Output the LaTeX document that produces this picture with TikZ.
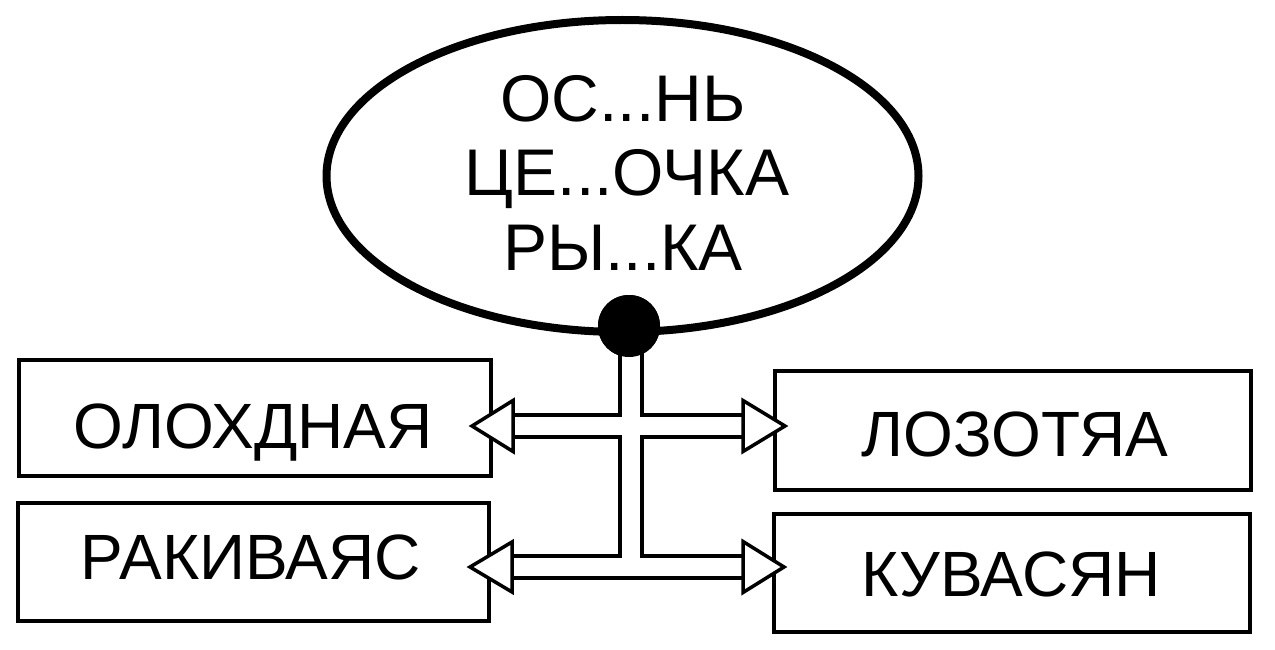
\documentclass[tikz,border=0pt]{standalone}
\usepackage{fontspec}
\setmainfont{Liberation Sans}
\usetikzlibrary{shapes.geometric}
\begin{document}
\begin{tikzpicture}[x=1pt,y=-1pt,
  box/.style={draw, line width=3.5pt, rectangle, inner sep=0pt},
  word/.style={inner sep=0pt, text height=46pt, text depth=0pt, font=\fontsize{64}{64}\selectfont},
  ovalword/.style={inner sep=0pt, text height=47pt, text depth=0pt, font=\fontsize{66}{66}\selectfont},
  oval/.style={draw, ellipse, line width=8pt, inner sep=0pt, minimum width=592pt, minimum height=312pt},
  pipeout/.style={line width=26.5pt, draw=black},
  pipein/.style={line width=18.5pt, draw=white},
  tip/.style={draw=black, fill=white, line width=3.5pt, line join=miter}
]
\useasboundingbox (0,0) rectangle (1275,650);
\fill[white] (0,0) rectangle (1275,650);

% boxes
\node[box, minimum width=472pt, minimum height=116pt] (tl) at (255,418) {};
\node[box, minimum width=471pt, minimum height=118pt] (bl) at (253.5,562) {};
\node[box, minimum width=476pt, minimum height=119pt] (tr) at (1013,430.5) {};
\node[box, minimum width=476pt, minimum height=118pt] (br) at (1012,573) {};
\node[word] (tlt) at (253,425) {ОЛОХДНАЯ};
\node[word] (blt) at (251,556) {РАКИВАЯС};
\node[word] (trt) at (1015,433) {ЛОЗОТЯА};
\node[word] (brt) at (1011,573) {КУВАСЯН};

% ellipse
\node[oval] (ov) at (622.5,176) {};
\node[ovalword] (l1) at (623,98.5) {ОС...НЬ};
\node[ovalword] (l2) at (627,172.5) {ЦЕ...ОЧКА};
\node[ovalword] (l3) at (623,246.5) {РЫ...КА};

\node[circle, fill=black, minimum size=62pt, inner sep=0pt] (dot) at (629,326) {};

% pipes
\coordinate (jb) at (631,567);
\coordinate (atl) at (513,426);
\coordinate (atr) at (743,426);
\coordinate (abl) at (512,567);
\coordinate (abr) at (743,567);
\draw[pipeout] (dot.center |- dot.center) ++(2,0) -- (jb) (atl) -- (atr) (abl) -- (abr);
\draw[pipein] (dot.center) ++(2,0) -- (jb) (atl) -- (atr) (abl) -- (abr);

% arrow heads
\draw[tip] (atl) ++(0,-25.5) -- (472,426) -- (513,451.5) -- cycle;
\draw[tip] (atr) ++(0,-25.5) -- (785,426) -- (743,451.5) -- cycle;
\draw[tip] (abl) ++(0,-25) -- (470,567) -- (512,592) -- cycle;
\draw[tip] (abr) ++(0,-25.5) -- (784,567) -- (743,592.5) -- cycle;

\node[circle, fill=black, minimum size=62pt, inner sep=0pt] (dot2) at (dot.center) {};
\end{tikzpicture}
\end{document}
